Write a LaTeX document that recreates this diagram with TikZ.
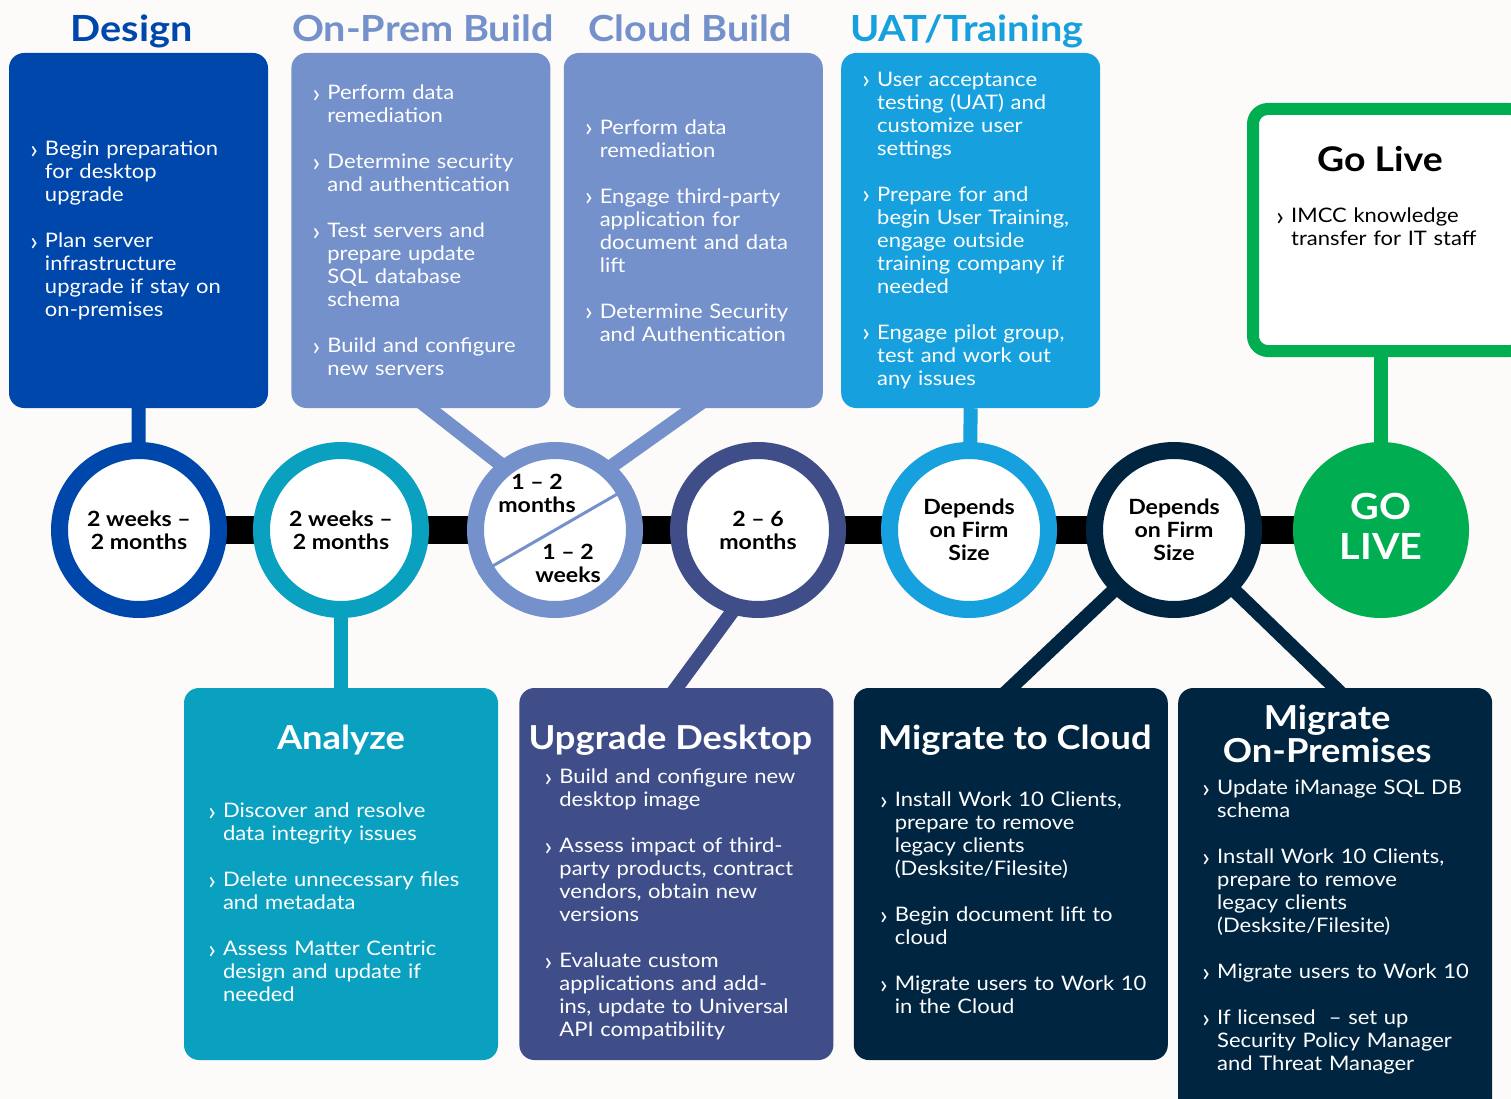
\documentclass[tikz,border=0pt]{standalone}
\usepackage{fontspec}
\setmainfont[FakeStretch=1.1]{Lato}
\usetikzlibrary{positioning,backgrounds}
\definecolor{designblue}{RGB}{0,71,171}
\definecolor{buildblue}{RGB}{116,145,204}
\definecolor{uatblue}{RGB}{22,160,221}
\definecolor{analyzeteal}{RGB}{10,161,193}
\definecolor{desktopslate}{RGB}{63,78,137}
\definecolor{migratenavy}{RGB}{0,37,65}
\definecolor{livegreen}{RGB}{0,173,80}
\definecolor{pagebg}{RGB}{252,251,249}
\newcommand{\tlbul}{\raisebox{-2.5pt}{\fontsize{26}{26}\selectfont ›}}
\newcommand{\tlitem}[1]{\hangindent=15pt\hangafter=1\noindent\makebox[15pt][l]{\tlbul}#1\par}
\tikzset{
  phase box/.style={rectangle, rounded corners=15pt, inner sep=0pt, minimum width=259pt, minimum height=355pt},
  task box/.style={rectangle, rounded corners=15pt, inner sep=0pt, minimum width=314pt, minimum height=372pt},
  phase title/.style={font=\fontsize{36}{36}\selectfont\bfseries, inner sep=0pt},
  task title/.style={font=\fontsize{33}{33}\selectfont\bfseries, text=white, inner sep=0pt, align=center},
  item text/.style={font=\fontsize{20}{23}\selectfont, text=white, inner sep=0pt, align=left, text width=#1,
    execute at begin node={\setlength{\parskip}{23pt}}},
  item text/.default=240pt,
  dur text/.style={font=\fontsize{21}{23}\selectfont\bfseries, align=center, inner sep=0pt},
  dur circle/.style={circle, draw=#1, line width=17pt, fill=white, minimum size=159pt, dur text},
  link/.style={line width=14pt, draw=#1},
}
\begin{document}
\begin{tikzpicture}[x=1pt, y=-1pt]
\useasboundingbox (0,0) rectangle (1511,1099);
\clip (0,0) rectangle (1511,1099);

% phases on top
\node[phase box, fill=designblue] (design) at (138.5,230.5) {};
\node[phase box, fill=buildblue, right=23pt of design] (onprem) {};
\node[phase box, fill=buildblue, right=13pt of onprem] (cloud) {};
\node[phase box, fill=uatblue, right=18pt of cloud] (uat) {};

\node[phase title, text=designblue, above=11pt of design.north, anchor=base, xshift=-7pt] {Design};
\node[phase title, text=buildblue, above=11pt of onprem.north, anchor=base, xshift=2pt] {On-Prem Build};
\node[phase title, text=buildblue, above=11pt of cloud.north, anchor=base, xshift=-3pt] {Cloud Build};
\node[phase title, text=uatblue, above=11pt of uat.north, anchor=base, xshift=-4pt] {UAT/Training};

\node[item text, right=21pt of design.west] {%
  \tlitem{Begin preparation\newline for desktop\newline upgrade}
  \tlitem{Plan server\newline infrastructure\newline upgrade if stay on\newline on-premises}};
\node[item text, right=21pt of onprem.west] {%
  \tlitem{Perform data\newline remediation}
  \tlitem{Determine security\newline and authentication}
  \tlitem{Test servers and\newline prepare update\newline SQL database\newline schema}
  \tlitem{Build and configure\newline new servers}};
\node[item text, right=21pt of cloud.west] {%
  \tlitem{Perform data\newline remediation}
  \tlitem{Engage third-party\newline application for\newline document and data\newline lift}
  \tlitem{Determine Security\newline and Authentication}};
\node[item text, right=21pt of uat.west] {%
  \tlitem{User acceptance\newline testing (UAT) and\newline customize user\newline settings}
  \tlitem{Prepare for and\newline begin User Training,\newline engage outside\newline training company if\newline needed}
  \tlitem{Engage pilot group,\newline test and work out\newline any issues}};

% go live box
\node[draw=livegreen, line width=12pt, rounded corners=15pt, fill=white, minimum width=272pt, minimum height=242pt] (golive) at (1389,230) {};
\node[phase title, font=\fontsize{34}{34}\selectfont\bfseries, below=69pt of golive.north, anchor=base, xshift=-9pt] {Go Live};
\node[item text, text=black, below right=105pt and 29pt of golive.north west] {%
  \tlitem{IMCC knowledge\newline transfer for IT staff}};

% durations
\node[dur circle=designblue] (c1) at (139,530) {2 weeks –\\2 months};
\node[dur circle=analyzeteal] (c2) at (341,530) {2 weeks –\\2 months};
\node[dur circle=buildblue] (c3) at (555,530) {};
\node[dur circle=desktopslate] (c4) at (758,530) {2 – 6\\months};
\node[dur circle=uatblue] (c5) at (969,530) {Depends\\on Firm\\Size};
\node[dur circle=migratenavy] (c6) at (1174,530) {Depends\\on Firm\\Size};
\node[dur circle=livegreen, fill=livegreen] (c7) at (1381,530) {};
\node[dur text, text=white, font=\fontsize{36}{40}\selectfont\bfseries] at ([yshift=4pt]c7.center) {GO\\LIVE};

\draw[buildblue, line width=3pt] (c3.210) -- (c3.30);
\node[dur text] at ([xshift=-18pt,yshift=37pt]c3.center) {1 – 2\\months};
\node[dur text] at ([xshift=13pt,yshift=-33pt]c3.center) {1 – 2\\weeks};

% tasks below
\node[task box, fill=analyzeteal] (analyze) at (341,874) {};
\node[task box, fill=desktopslate, right=21pt of analyze] (desktop) {};
\node[task box, fill=migratenavy, right=20pt of desktop] (tocloud) {};
\node[task box, fill=migratenavy, minimum height=427pt, right=10pt of tocloud.north east, anchor=north west] (toprem) {};

\node[task title, below=37pt of analyze.north] {Analyze};
\node[task title, below=37pt of desktop.north, xshift=-6pt] {Upgrade Desktop};
\node[task title, below=37pt of tocloud.north, xshift=4pt] {Migrate to Cloud};
\node[task title, below=17pt of toprem.north, xshift=-8pt] {Migrate\\On-Premises};

\node[item text=285pt, below right=115pt and 24pt of analyze.north west] {%
  \tlitem{Discover and resolve\newline data integrity issues}
  \tlitem{Delete unnecessary files\newline and metadata}
  \tlitem{Assess Matter Centric\newline design and update if\newline needed}};
\node[item text=285pt, below right=81pt and 25pt of desktop.north west] {%
  \tlitem{Build and configure new\newline desktop image}
  \tlitem{Assess impact of third-\newline party products, contract\newline vendors, obtain new\newline versions}
  \tlitem{Evaluate custom\newline applications and add-\newline ins, update to Universal\newline API compatibility}};
\node[item text=285pt, below right=104pt and 26pt of tocloud.north west] {%
  \tlitem{Install Work 10 Clients,\newline prepare to remove\newline legacy clients\newline (Desksite/Filesite)}
  \tlitem{Begin document lift to\newline cloud}
  \tlitem{Migrate users to Work 10\newline in the Cloud}};
\node[item text=285pt, below right=92pt and 24pt of toprem.north west] {%
  \tlitem{Update iManage SQL DB\newline schema}
  \tlitem{Install Work 10 Clients,\newline prepare to remove\newline legacy clients\newline (Desksite/Filesite)}
  \tlitem{Migrate users to Work 10}
  \tlitem{If licensed~ – set up\newline Security Policy Manager\newline and Threat Manager}};

% timeline bar and links
\begin{scope}[on background layer]
  \fill[pagebg] (0,0) rectangle (1511,1099);
  \draw[line width=28pt] (c1.center) -- (c7.center);
  \draw[link=designblue] (design.south) -- (c1.center);
  \draw[link=buildblue, shorten <=-10pt, shorten >=-15pt] ([xshift=8pt]onprem.south) -- (c3.130);
  \draw[link=buildblue, shorten <=-10pt, shorten >=-15pt] (cloud.south) -- (c3.48);
  \draw[link=uatblue] (uat.south) -- (c5.center);
  \draw[link=livegreen] (c7.center |- golive.south) -- (c7.center);
  \draw[link=analyzeteal] (c2.center) -- (analyze.north);
  \draw[link=desktopslate, shorten <=-15pt, shorten >=-10pt] (c4.-108) -- (desktop.north);
  \draw[link=migratenavy, shorten <=-15pt, shorten >=-10pt] (c6.-135) -- (tocloud.north);
  \draw[link=migratenavy, shorten <=-15pt, shorten >=-10pt] (c6.-45) -- (toprem.north);
\end{scope}
\end{tikzpicture}
\end{document}
